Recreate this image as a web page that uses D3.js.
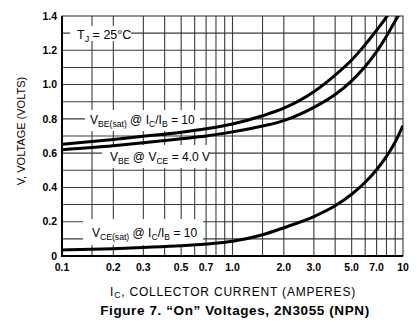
<!DOCTYPE html>
<html><head><meta charset="utf-8">
<script src="https://cdn.jsdelivr.net/npm/d3@7"></script>
<style>
html,body{margin:0;padding:0;background:#fff;}
svg{display:block;font-family:"Liberation Sans",Arial,Helvetica,sans-serif;}
</style></head>
<body>
<svg id="c" width="417" height="331"></svg>
<script>
// ---- data ----
const vbeSatI = [0.1, 0.2, 0.3, 0.5, 0.7, 1.0, 1.5, 2.0, 3.0, 4.0, 5.0, 6.0, 7.0, 8.0, 8.3];
const vbeSatV = [0.652, 0.68, 0.698, 0.722, 0.742, 0.77, 0.818, 0.862, 0.958, 1.055, 1.143, 1.233, 1.317, 1.395, 1.42];
const vbeI = [0.1, 0.2, 0.3, 0.5, 0.7, 1.0, 1.5, 2.0, 3.0, 4.0, 5.0, 6.0, 7.0, 8.0, 9.0, 9.5, 9.8];
const vbeV = [0.62, 0.643, 0.66, 0.684, 0.70, 0.724, 0.758, 0.79, 0.867, 0.942, 1.022, 1.105, 1.192, 1.282, 1.371, 1.41, 1.43];
const vceSatI = [0.1, 0.2, 0.3, 0.5, 0.7, 1.0, 1.5, 2.0, 3.0, 4.0, 5.0, 6.0, 7.0, 8.0, 9.0, 10.0];
const vceSatV = [0.035, 0.043, 0.05, 0.06, 0.07, 0.086, 0.124, 0.165, 0.23, 0.293, 0.36, 0.43, 0.503, 0.581, 0.665, 0.76];
const xTickVals = [0.1, 0.2, 0.3, 0.5, 0.7, 1.0, 2.0, 3.0, 5.0, 7.0, 10];
const xTickLabels = ["0.1", "0.2", "0.3", "0.5", "0.7", "1.0", "2.0", "3.0", "5.0", "7.0", "10"];
const xGridVals = [0.15, 0.2, 0.3, 0.4, 0.5, 0.6, 0.7, 0.8, 0.9, 1.0, 1.5, 2, 3, 4, 5, 6, 7, 8, 9];
const yTickVals = [0, 0.2, 0.4, 0.6, 0.8, 1.0, 1.2, 1.4];
const yTickLabels = ["0", "0.2", "0.4", "0.6", "0.8", "1.0", "1.2", "1.4"];
const yGridVals = [0.1, 0.2, 0.3, 0.4, 0.5, 0.6, 0.7, 0.8, 0.9, 1.0, 1.1, 1.2, 1.3];

const L = 62, R = 403, T = 16, B = 256;
const svg = d3.select("#c");
const x = d3.scaleLog().domain([0.1, 10]).range([L, R]);
const y = d3.scaleLinear().domain([0, 1.4]).range([B, T]);

// grid
const grid = svg.append("g").attr("stroke", "#3a3a3a").attr("stroke-width", 1.1);
grid.selectAll("line.v").data(xGridVals).join("line")
  .attr("x1", d => x(d)).attr("x2", d => x(d)).attr("y1", T).attr("y2", B);
grid.selectAll("line.h").data(yGridVals).join("line")
  .attr("y1", d => y(d)).attr("y2", d => y(d)).attr("x1", L).attr("x2", R);
// frame
svg.append("rect").attr("x", L).attr("y", T).attr("width", R - L).attr("height", B - T)
  .attr("fill", "none").attr("stroke", "#3a3a3a").attr("stroke-width", 1.1);
svg.append("line").attr("x1", L).attr("x2", L).attr("y1", T).attr("y2", B + 1).attr("stroke", "#000").attr("stroke-width", 2);
svg.append("line").attr("x1", L - 1).attr("x2", R).attr("y1", B).attr("y2", B).attr("stroke", "#000").attr("stroke-width", 2);

// label boxes (white, cover the grid)
const boxes = [[70, 26, 61, 15], [85, 110, 115, 21], [102, 145, 108, 23], [83, 219, 120, 26]];
svg.selectAll("rect.box").data(boxes).join("rect")
  .attr("x", d => d[0]).attr("y", d => d[1]).attr("width", d => d[2]).attr("height", d => d[3])
  .attr("fill", "#fff");

// curves
const clipId = "plotclip";
svg.append("clipPath").attr("id", clipId).append("rect")
  .attr("x", L).attr("y", T).attr("width", R - L).attr("height", B - T);
const line = d3.line().x(d => x(d[0])).y(d => y(d[1])).curve(d3.curveMonotoneX);
const series = [d3.zip(vbeSatI, vbeSatV), d3.zip(vbeI, vbeV), d3.zip(vceSatI, vceSatV)];
svg.append("g").attr("clip-path", `url(#${clipId})`)
  .selectAll("path").data(series).join("path")
  .attr("d", line).attr("fill", "none").attr("stroke", "#000").attr("stroke-width", 3);

// tick labels
svg.append("g").selectAll("text").data(yTickVals).join("text")
  .attr("x", 57).attr("y", d => y(d)).attr("dy", "0.36em").attr("text-anchor", "end")
  .attr("font-size", 10.5).attr("font-weight", "bold").text((d, i) => yTickLabels[i]);
svg.append("g").selectAll("text").data(xTickVals).join("text")
  .attr("x", d => x(d)).attr("y", 271).attr("text-anchor", "middle")
  .attr("font-size", 10.5).attr("font-weight", "bold").text((d, i) => xTickLabels[i]);

// rich text helper
function rich(px, py, parts, size, anchor, shift) {
  const sh = shift || 3;
  const t = svg.append("text").attr("x", px).attr("y", py).attr("font-size", size)
    .attr("text-anchor", anchor || "start");
  let shifted = 0;
  parts.forEach(p => {
    const s = t.append("tspan").text(p[0]);
    if (p[1] === "s") {
      s.attr("font-size", size * 0.72).attr("dy", sh - shifted); shifted = sh;
    } else {
      if (shifted) s.attr("dy", -shifted); shifted = 0;
    }
  });
  return t;
}
rich(77, 39, [["T", "n"], ["J", "s"], [" = 25°C", "n"]], 12.5);
rich(90, 124, [["V", "n"], ["BE(sat)", "s"], [" @ I", "n"], ["C", "s"], ["/I", "n"], ["B", "s"], [" = 10", "n"]], 12);
rich(110, 161, [["V", "n"], ["BE", "s"], [" @ V", "n"], ["CE", "s"], [" = 4.0 V", "n"]], 12);
rich(92, 237, [["V", "n"], ["CE(sat)", "s"], [" @ I", "n"], ["C", "s"], ["/I", "n"], ["B", "s"], [" = 10", "n"]], 12);

// axis titles
rich(233, 296, [["I", "n"], ["C", "s"], [", COLLECTOR CURRENT (AMPERES)", "n"]], 12, "middle", 2)
  .attr("letter-spacing", 0.8);
svg.append("text").attr("transform", "translate(25,131) rotate(-90)").attr("text-anchor", "middle")
  .attr("font-size", 11).text("V, VOLTAGE (VOLTS)");
svg.append("text").attr("x", 235).attr("y", 315).attr("text-anchor", "middle")
  .attr("font-size", 13.5).attr("font-weight", "bold").attr("letter-spacing", 0.6)
  .text("Figure 7. “On” Voltages, 2N3055 (NPN)");
</script>
</body></html>
